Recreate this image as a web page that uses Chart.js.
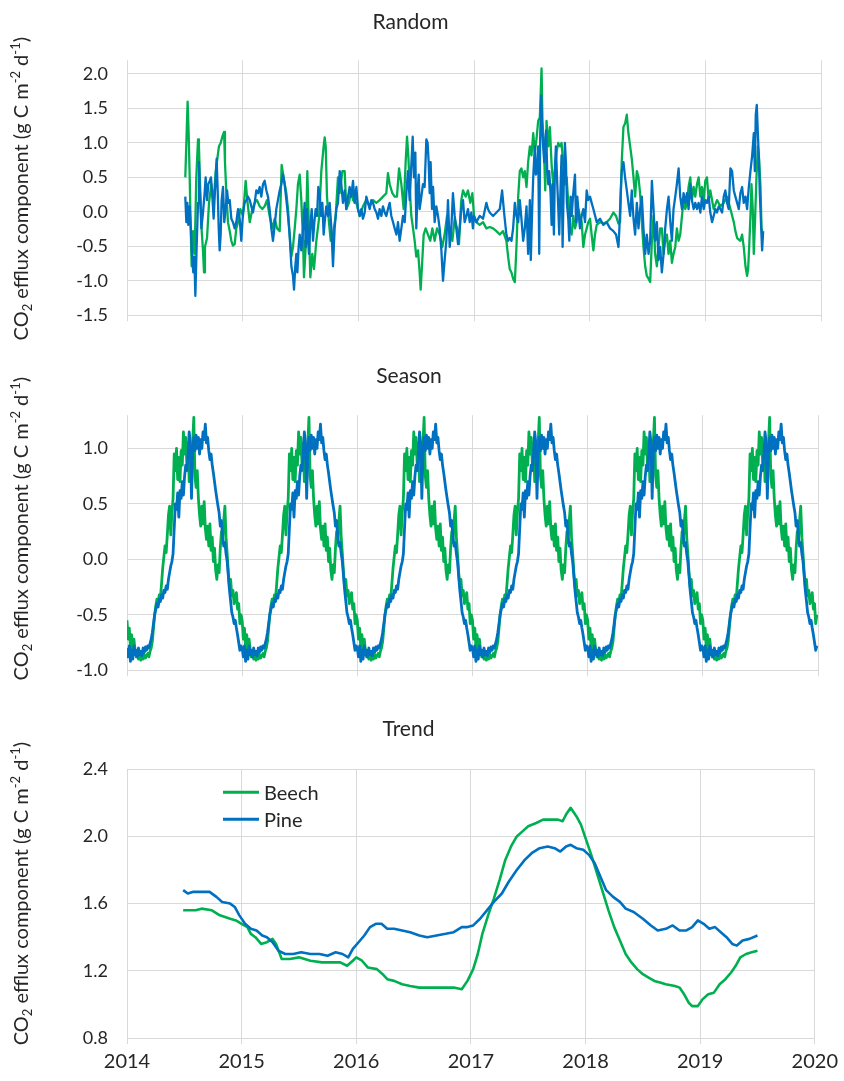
<!DOCTYPE html>
<html>
<head>
<meta charset="utf-8">
<script src="https://cdn.jsdelivr.net/npm/chart.js@4.4.1/dist/chart.umd.min.js"></script>
<style>
  html, body { margin: 0; padding: 0; background: #fff; }
  .panel { position: absolute; left: 0; width: 844px; }
</style>
</head>
<body>
<div class="panel" style="top:0;height:345px"><canvas id="randomChart"></canvas></div>
<div class="panel" style="top:345px;height:355px"><canvas id="seasonChart"></canvas></div>
<div class="panel" style="top:700px;height:381px"><canvas id="trendChart"></canvas></div>
<script>
const yearTicks = [2014, 2015, 2016, 2017, 2018, 2019, 2020];
const randomTicks = [-1.5, -1.0, -0.5, 0.0, 0.5, 1.0, 1.5, 2.0];
const seasonTicks = [-1.0, -0.5, 0.0, 0.5, 1.0];
const trendTicks = [0.8, 1.2, 1.6, 2.0, 2.4];
const seriesNames = ["Beech", "Pine"];

// random component, [year, value]
const beechRandom = [
  [2014.504,0.50],[2014.524,1.60],[2014.533,1.14],[2014.542,0.50],[2014.550,-0.19],[2014.559,-0.79],[2014.571,-0.28],[2014.585,-0.61],
  [2014.599,0.50],[2014.614,1.05],[2014.622,0.95],[2014.634,0.27],[2014.646,-0.28],[2014.657,-0.56],[2014.666,-0.88],[2014.674,-0.51],
  [2014.692,-0.38],[2014.709,0.13],[2014.729,0.40],[2014.749,0.13],[2014.767,0.59],[2014.781,0.77],[2014.795,0.95],[2014.810,1.00],
  [2014.824,1.09],[2014.839,1.16],[2014.847,0.72],[2014.859,0.27],[2014.873,-0.15],[2014.888,-0.28],[2014.902,-0.42],[2014.916,-0.49],
  [2014.931,-0.47],[2014.945,-0.24],[2014.960,-0.15],[2014.980,0.04],[2015.003,-0.06],[2015.026,0.45],[2015.040,0.17],[2015.061,-0.15],
  [2015.084,0.04],[2015.104,0.13],[2015.124,0.17],[2015.147,0.08],[2015.170,0.04],[2015.190,0.08],[2015.210,0.17],[2015.233,-0.06],
  [2015.256,-0.24],[2015.277,-0.10],[2015.297,-0.24],[2015.320,-0.28],[2015.337,0.68],[2015.354,0.50],[2015.378,0.27],[2015.392,0.04],
  [2015.406,-0.33],[2015.421,-0.65],[2015.435,-0.51],[2015.450,-0.24],[2015.464,0.04],[2015.478,0.40],[2015.493,0.54],[2015.507,0.17],
  [2015.522,-0.42],[2015.530,-0.95],[2015.545,-0.51],[2015.559,0.59],[2015.573,-0.24],[2015.585,-0.95],[2015.602,-0.61],[2015.617,-0.83],
  [2015.637,-0.42],[2015.660,-0.10],[2015.680,0.59],[2015.700,0.95],[2015.709,1.08],[2015.718,0.95],[2015.729,0.22],[2015.746,-0.15],
  [2015.761,-0.42],[2015.781,-0.33],[2015.804,-0.06],[2015.824,0.50],[2015.839,0.27],[2015.862,0.59],[2015.882,0.59],[2015.896,0.04],
  [2015.919,0.13],[2015.939,0.31],[2015.954,0.17],[2015.983,0.13],[2016.012,-0.06],[2016.040,0.08],[2016.069,0.17],[2016.098,0.08],
  [2016.127,0.17],[2016.156,0.13],[2016.184,0.17],[2016.213,0.22],[2016.242,0.27],[2016.256,0.56],[2016.271,0.40],[2016.294,0.27],
  [2016.314,0.22],[2016.334,0.22],[2016.352,0.63],[2016.372,0.40],[2016.392,0.04],[2016.409,0.72],[2016.421,1.09],[2016.432,0.82],
  [2016.444,0.36],[2016.458,-0.06],[2016.473,-0.24],[2016.487,-0.42],[2016.501,-0.65],[2016.516,-0.56],[2016.530,-0.88],[2016.539,-1.13],
  [2016.550,-0.79],[2016.565,-0.33],[2016.582,-0.24],[2016.602,-0.33],[2016.622,-0.42],[2016.640,-0.24],[2016.660,-0.42],[2016.680,-0.24],
  [2016.703,-0.33],[2016.726,-0.51],[2016.746,-0.33],[2016.767,-0.06],[2016.790,-0.24],[2016.813,-0.42],[2016.833,-0.10],[2016.853,-0.24],
  [2016.870,-0.47],[2016.890,0.17],[2016.905,0.31],[2016.928,0.22],[2016.948,0.31],[2016.968,0.13],[2016.986,0.27],
  [2017.000,-0.06],[2017.020,-0.15],[2017.049,-0.19],[2017.078,-0.15],[2017.107,-0.24],[2017.136,-0.22],[2017.165,-0.24],[2017.194,-0.28],
  [2017.223,-0.33],[2017.251,-0.28],[2017.280,-0.42],[2017.295,-0.65],[2017.309,-0.83],[2017.324,-0.88],[2017.338,-0.97],[2017.353,-1.02],
  [2017.367,-0.51],[2017.382,0.22],[2017.396,0.59],[2017.410,0.63],[2017.425,0.50],[2017.439,0.59],[2017.454,0.36],[2017.468,0.72],
  [2017.483,0.95],[2017.497,0.82],[2017.512,1.14],[2017.526,0.87],[2017.540,1.05],[2017.555,1.32],[2017.569,1.37],[2017.584,2.08],
  [2017.592,1.32],[2017.604,0.95],[2017.616,0.31],[2017.627,1.32],[2017.642,0.95],[2017.656,1.23],[2017.671,0.68],[2017.685,0.40],
  [2017.699,0.59],[2017.714,0.87],[2017.728,1.00],[2017.743,0.95],[2017.757,1.00],[2017.772,0.68],[2017.786,0.40],[2017.801,0.50],
  [2017.815,0.13],[2017.829,-0.24],[2017.844,-0.33],[2017.858,-0.06],[2017.873,-0.24],[2017.887,-0.15],[2017.902,0.04],[2017.916,-0.06],
  [2017.931,-0.15],[2017.945,-0.51],[2017.960,-0.33],[2017.974,-0.24],[2017.988,-0.15],[2018.003,-0.10],[2018.017,-0.33],[2018.032,-0.56],
  [2018.046,-0.33],[2018.061,-0.19],[2018.090,-0.15],[2018.118,-0.17],[2018.147,-0.15],[2018.176,-0.10],[2018.205,-0.01],[2018.228,-0.06],
  [2018.249,-0.17],[2018.263,-0.15],[2018.277,0.72],[2018.292,1.23],[2018.306,1.28],[2018.321,1.41],[2018.335,1.14],[2018.350,0.95],
  [2018.364,0.77],[2018.379,0.50],[2018.393,0.22],[2018.408,0.59],[2018.422,0.50],[2018.436,0.27],[2018.451,-0.15],[2018.465,-0.51],
  [2018.480,-0.79],[2018.494,-0.93],[2018.509,-0.97],[2018.523,-1.02],[2018.538,-0.42],[2018.552,-0.06],[2018.566,-0.61],[2018.581,-0.79],
  [2018.595,-0.51],[2018.610,-0.24],[2018.624,-0.24],[2018.639,-0.61],[2018.653,-0.42],[2018.668,-0.33],[2018.682,-0.61],[2018.697,-0.42],
  [2018.711,-0.74],[2018.725,-0.61],[2018.740,-0.51],[2018.754,-0.24],[2018.769,-0.42],[2018.783,-0.33],[2018.798,-0.06],[2018.812,0.17],
  [2018.827,0.04],[2018.841,0.13],[2018.855,0.36],[2018.870,0.50],[2018.884,0.17],[2018.899,0.36],[2018.913,0.22],[2018.928,0.40],
  [2018.942,0.50],[2018.957,0.22],[2018.971,0.36],[2018.986,0.17],[2019.000,0.45],[2019.014,0.50],[2019.029,0.17],[2019.043,0.31],
  [2019.072,0.04],[2019.101,0.17],[2019.130,0.08],[2019.159,0.13],[2019.188,0.22],[2019.217,0.04],[2019.246,-0.15],[2019.260,-0.28],
  [2019.275,-0.38],[2019.303,-0.42],[2019.318,-0.33],[2019.332,-0.51],[2019.347,-0.79],[2019.361,-0.93],[2019.370,-0.83],[2019.379,-0.51],
  [2019.390,-0.06],[2019.399,0.40],[2019.410,0.04],[2019.419,-0.61],[2019.431,-0.06],[2019.442,0.50],[2019.454,0.95],[2019.465,0.77],
  [2019.477,0.36],[2019.486,-0.24],[2019.494,-0.30]
];

const pineRandom = [
  [2014.504,0.22],[2014.513,-0.15],[2014.522,0.13],[2014.530,-0.19],[2014.542,0.08],[2014.553,-0.28],[2014.562,-0.61],[2014.573,-0.88],
  [2014.582,-0.65],[2014.591,-1.22],[2014.602,-0.51],[2014.614,0.13],[2014.622,0.72],[2014.631,0.27],[2014.643,-0.24],[2014.657,-0.01],
  [2014.671,0.27],[2014.680,0.50],[2014.692,0.17],[2014.703,0.40],[2014.715,0.45],[2014.726,0.50],[2014.738,0.22],[2014.749,-0.10],
  [2014.758,0.22],[2014.767,0.50],[2014.775,0.77],[2014.784,0.31],[2014.793,-0.24],[2014.801,-0.56],[2014.810,-0.33],[2014.818,0.17],
  [2014.830,0.36],[2014.841,-0.15],[2014.853,0.04],[2014.865,0.31],[2014.876,0.13],[2014.888,0.17],[2014.902,-0.10],[2014.916,-0.15],
  [2014.931,-0.24],[2014.945,-0.15],[2014.960,0.04],[2014.974,-0.10],[2014.988,-0.42],[2015.003,-0.01],[2015.017,0.13],[2015.032,0.17],
  [2015.046,0.22],[2015.061,0.17],[2015.075,0.08],[2015.089,-0.01],[2015.104,0.13],[2015.118,0.31],[2015.133,0.27],[2015.147,0.36],
  [2015.161,0.22],[2015.176,0.40],[2015.190,0.45],[2015.205,0.31],[2015.219,0.22],[2015.233,0.04],[2015.248,-0.24],[2015.262,-0.42],
  [2015.277,-0.19],[2015.291,0.04],[2015.305,0.17],[2015.320,0.31],[2015.334,0.40],[2015.349,0.54],[2015.363,0.40],[2015.378,0.17],
  [2015.392,-0.06],[2015.406,-0.33],[2015.421,-0.79],[2015.435,-0.93],[2015.444,-1.13],[2015.455,-0.79],[2015.464,-0.61],[2015.473,-0.88],
  [2015.484,-0.51],[2015.493,-0.33],[2015.507,-0.56],[2015.522,-0.24],[2015.536,0.13],[2015.545,-0.51],[2015.556,0.04],[2015.565,-0.42],
  [2015.573,-0.61],[2015.585,-0.19],[2015.597,0.04],[2015.608,-0.42],[2015.620,-0.15],[2015.631,0.04],[2015.643,-0.06],[2015.654,0.36],
  [2015.666,0.27],[2015.677,-0.06],[2015.689,0.13],[2015.700,-0.33],[2015.712,-0.10],[2015.723,0.08],[2015.738,-0.06],[2015.752,0.13],
  [2015.767,-0.24],[2015.781,-0.79],[2015.795,-0.24],[2015.810,0.04],[2015.824,0.13],[2015.839,0.59],[2015.853,0.40],[2015.867,0.13],
  [2015.882,0.31],[2015.896,0.04],[2015.911,0.22],[2015.925,0.36],[2015.939,0.22],[2015.954,0.45],[2015.968,0.13],[2015.983,0.36],
  [2015.997,0.04],[2016.012,-0.06],[2016.026,0.04],[2016.040,-0.10],[2016.055,-0.01],[2016.069,0.22],[2016.084,0.13],[2016.098,0.04],
  [2016.112,0.17],[2016.127,0.13],[2016.141,0.04],[2016.156,-0.01],[2016.170,-0.10],[2016.184,0.04],[2016.199,-0.06],[2016.213,0.08],
  [2016.228,-0.01],[2016.242,-0.06],[2016.256,0.04],[2016.271,0.13],[2016.285,-0.06],[2016.300,-0.15],[2016.314,-0.24],[2016.329,-0.33],
  [2016.343,-0.15],[2016.357,-0.42],[2016.372,-0.24],[2016.386,-0.06],[2016.401,-0.15],[2016.415,0.27],[2016.429,0.59],[2016.444,0.17],
  [2016.458,0.68],[2016.470,1.09],[2016.481,0.50],[2016.493,0.86],[2016.501,-0.24],[2016.513,0.31],[2016.522,0.54],[2016.530,0.04],
  [2016.545,0.22],[2016.559,0.40],[2016.573,0.36],[2016.588,1.05],[2016.599,1.00],[2016.608,0.72],[2016.617,0.27],[2016.625,0.72],
  [2016.637,0.04],[2016.646,0.36],[2016.660,-0.15],[2016.674,0.08],[2016.689,-0.06],[2016.703,-0.24],[2016.718,-0.56],[2016.732,-1.00],
  [2016.746,-0.70],[2016.761,-0.42],[2016.775,0.17],[2016.790,-0.51],[2016.804,-0.24],[2016.818,0.27],[2016.833,-0.06],[2016.847,-0.24],
  [2016.862,-0.47],[2016.876,-0.24],[2016.890,0.04],[2016.905,0.17],[2016.919,-0.15],[2016.934,-0.06],[2016.948,0.04],[2016.963,-0.15],
  [2016.977,-0.01],[2016.991,-0.24],
  [2017.000,-0.06],[2017.020,-0.15],[2017.049,-0.06],[2017.078,-0.10],[2017.107,0.13],[2017.121,0.04],[2017.136,-0.01],[2017.165,-0.06],
  [2017.194,-0.01],[2017.223,0.04],[2017.243,0.31],[2017.260,-0.01],[2017.280,-0.33],[2017.295,-0.42],[2017.309,-0.38],[2017.324,-0.42],
  [2017.338,-0.24],[2017.353,0.13],[2017.367,-0.06],[2017.382,-0.15],[2017.396,0.17],[2017.410,-0.10],[2017.425,-0.42],[2017.439,-0.24],
  [2017.454,0.08],[2017.468,-0.61],[2017.483,0.17],[2017.491,-0.70],[2017.503,0.04],[2017.512,0.50],[2017.526,0.95],[2017.535,0.54],
  [2017.546,0.59],[2017.555,0.95],[2017.564,-0.61],[2017.572,1.05],[2017.581,1.69],[2017.590,1.18],[2017.598,0.95],[2017.607,0.72],
  [2017.616,1.05],[2017.624,1.18],[2017.633,0.59],[2017.642,0.40],[2017.650,0.59],[2017.662,0.27],[2017.671,-0.19],[2017.679,0.40],
  [2017.691,-0.33],[2017.699,0.59],[2017.708,0.95],[2017.720,0.40],[2017.728,0.08],[2017.737,-0.33],[2017.749,0.40],[2017.757,0.82],
  [2017.766,-0.51],[2017.777,0.50],[2017.786,1.00],[2017.795,0.72],[2017.803,0.13],[2017.815,-0.10],[2017.824,-0.42],[2017.835,0.22],
  [2017.844,-0.06],[2017.858,0.27],[2017.873,0.54],[2017.882,-0.15],[2017.893,0.22],[2017.902,0.04],[2017.916,-0.24],[2017.931,-0.06],
  [2017.945,0.04],[2017.960,-0.15],[2017.974,0.31],[2017.988,0.17],[2018.003,0.22],[2018.017,0.13],[2018.032,0.04],[2018.061,-0.15],
  [2018.090,-0.10],[2018.118,-0.19],[2018.147,-0.15],[2018.176,-0.24],[2018.205,-0.28],[2018.228,-0.33],[2018.249,-0.51],[2018.257,-0.24],
  [2018.269,0.31],[2018.277,0.59],[2018.292,0.72],[2018.306,0.50],[2018.321,0.31],[2018.335,0.13],[2018.350,-0.06],[2018.364,0.31],
  [2018.379,-0.10],[2018.393,-0.33],[2018.408,0.13],[2018.422,-0.24],[2018.436,0.04],[2018.451,0.22],[2018.465,-0.24],[2018.480,-0.61],
  [2018.494,-0.33],[2018.509,-0.61],[2018.523,-0.42],[2018.538,0.45],[2018.552,0.04],[2018.566,-0.42],[2018.581,-0.15],[2018.595,-0.70],
  [2018.610,-0.51],[2018.624,-0.88],[2018.639,-0.61],[2018.653,-0.24],[2018.668,0.04],[2018.682,0.22],[2018.697,-0.15],[2018.711,-0.42],
  [2018.725,0.04],[2018.740,0.22],[2018.754,0.40],[2018.769,0.63],[2018.783,0.22],[2018.798,0.04],[2018.812,0.27],[2018.827,0.13],
  [2018.841,0.27],[2018.855,0.04],[2018.870,0.40],[2018.884,0.17],[2018.899,0.04],[2018.913,0.13],[2018.928,0.04],[2018.942,0.13],
  [2018.957,-0.01],[2018.971,0.22],[2018.986,0.04],[2019.000,0.17],[2019.014,0.13],[2019.029,0.22],[2019.043,-0.01],[2019.058,-0.15],
  [2019.072,-0.06],[2019.087,0.04],[2019.101,-0.01],[2019.116,0.08],[2019.130,0.04],[2019.145,-0.01],[2019.159,0.22],[2019.173,0.31],
  [2019.188,0.13],[2019.202,0.04],[2019.217,0.63],[2019.231,0.59],[2019.246,0.31],[2019.260,0.22],[2019.275,0.13],[2019.289,0.04],
  [2019.303,0.27],[2019.318,0.36],[2019.332,0.13],[2019.347,0.22],[2019.361,0.04],[2019.376,0.36],[2019.390,0.59],[2019.405,0.82],
  [2019.419,1.14],[2019.428,0.59],[2019.436,1.41],[2019.445,1.55],[2019.454,1.14],[2019.462,0.82],[2019.471,0.27],[2019.483,-0.24],
  [2019.491,-0.56],[2019.500,-0.28]
];

// seasonal component: one yearly profile, read at 1/100-year steps, repeated each year
const seasonYears = [2014, 2015, 2016, 2017, 2018, 2019];
const beechSeason = [
  -0.55,-0.72,-0.62,-0.80,-0.68,-0.85,-0.72,-0.82,-0.88,-0.84,
  -0.90,-0.87,-0.91,-0.88,-0.90,-0.86,-0.89,-0.87,-0.85,-0.88,
  -0.83,-0.80,-0.74,-0.62,-0.50,-0.42,-0.36,-0.40,-0.32,-0.35,
  -0.22,-0.08,0.02,0.12,0.06,0.22,0.40,0.48,0.22,0.42,
  0.55,0.95,0.80,1.00,0.72,0.92,0.70,0.98,0.85,1.15,
  0.95,1.10,0.85,1.05,0.70,0.90,0.72,1.05,1.28,0.75,
  0.65,0.80,0.55,0.40,0.30,0.48,0.32,0.52,0.28,0.18,
  0.30,0.12,0.32,0.08,0.20,-0.02,0.10,-0.10,-0.18,-0.05,
  -0.12,0.10,0.25,0.15,0.35,0.48,0.20,0.05,-0.12,-0.25,
  -0.18,-0.33,-0.28,-0.40,-0.35,-0.30,-0.45,-0.40,-0.58,-0.50
];
const pineSeason = [
  -0.80,-0.88,-0.78,-0.92,-0.82,-0.90,-0.78,-0.86,-0.82,-0.88,
  -0.80,-0.86,-0.83,-0.87,-0.80,-0.84,-0.79,-0.82,-0.78,-0.80,
  -0.76,-0.72,-0.66,-0.58,-0.50,-0.45,-0.40,-0.43,-0.36,-0.38,
  -0.32,-0.35,-0.28,-0.30,-0.24,-0.27,-0.18,-0.12,-0.06,-0.02,
  0.05,0.28,0.50,0.45,0.60,0.38,0.62,0.55,0.70,0.58,
  0.75,0.85,0.80,0.95,1.15,1.05,0.55,0.95,1.10,0.98,
  1.12,1.00,1.10,0.95,1.08,1.00,1.15,1.08,1.22,1.05,
  1.10,0.98,0.90,0.95,0.85,0.78,0.70,0.62,0.55,0.48,
  0.42,0.30,0.35,0.20,0.12,0.15,0.05,-0.02,-0.15,-0.28,
  -0.38,-0.48,-0.52,-0.58,-0.55,-0.62,-0.68,-0.75,-0.82,-0.78
];

// trend component, [year, value]
const beechTrend = [
  [2014.49,1.56],[2014.55,1.56],[2014.60,1.56],[2014.65,1.57],[2014.74,1.56],[2014.81,1.53],[2014.90,1.51],[2014.95,1.50],
  [2015.00,1.48],[2015.05,1.46],[2015.08,1.42],[2015.12,1.40],[2015.17,1.36],[2015.22,1.37],[2015.27,1.39],[2015.30,1.36],
  [2015.35,1.27],[2015.42,1.27],[2015.50,1.28],[2015.60,1.26],[2015.70,1.25],[2015.80,1.25],[2015.86,1.25],[2015.92,1.23],
  [2015.97,1.26],[2016.00,1.28],[2016.05,1.26],[2016.10,1.22],[2016.18,1.21],[2016.23,1.18],[2016.27,1.15],[2016.33,1.14],
  [2016.40,1.12],[2016.47,1.11],[2016.55,1.10],[2016.65,1.10],[2016.75,1.10],[2016.85,1.10],[2016.92,1.09],[2016.97,1.14],
  [2017.02,1.21],[2017.06,1.30],[2017.10,1.42],[2017.15,1.53],[2017.20,1.63],[2017.25,1.74],[2017.30,1.86],[2017.35,1.94],
  [2017.40,2.00],[2017.45,2.03],[2017.50,2.06],[2017.57,2.08],[2017.63,2.10],[2017.70,2.10],[2017.76,2.10],[2017.80,2.09],
  [2017.83,2.13],[2017.87,2.17],[2017.92,2.12],[2017.96,2.07],[2018.00,1.99],[2018.05,1.89],[2018.10,1.78],[2018.15,1.67],
  [2018.20,1.56],[2018.25,1.46],[2018.30,1.38],[2018.35,1.30],[2018.40,1.25],[2018.45,1.21],[2018.50,1.18],[2018.55,1.16],
  [2018.60,1.14],[2018.65,1.13],[2018.70,1.12],[2018.78,1.11],[2018.82,1.10],[2018.86,1.06],[2018.90,1.01],[2018.93,0.99],
  [2018.98,0.99],[2019.02,1.03],[2019.07,1.06],[2019.12,1.07],[2019.17,1.12],[2019.22,1.15],[2019.27,1.19],[2019.31,1.23],
  [2019.35,1.28],[2019.40,1.30],[2019.45,1.31],[2019.50,1.32]
];
const pineTrend = [
  [2014.49,1.68],[2014.53,1.66],[2014.58,1.67],[2014.65,1.67],[2014.72,1.67],[2014.78,1.64],[2014.83,1.61],[2014.90,1.60],
  [2014.94,1.58],[2014.98,1.53],[2015.03,1.48],[2015.08,1.45],[2015.13,1.44],[2015.18,1.41],[2015.22,1.40],[2015.27,1.37],
  [2015.32,1.32],[2015.38,1.30],[2015.45,1.30],[2015.52,1.31],[2015.60,1.30],[2015.68,1.30],[2015.75,1.29],[2015.82,1.31],
  [2015.88,1.30],[2015.93,1.28],[2015.97,1.33],[2016.02,1.37],[2016.07,1.41],[2016.12,1.46],[2016.17,1.48],[2016.22,1.48],
  [2016.27,1.45],[2016.33,1.45],[2016.40,1.44],[2016.47,1.43],[2016.55,1.41],[2016.62,1.40],[2016.70,1.41],[2016.78,1.42],
  [2016.85,1.43],[2016.92,1.46],[2016.97,1.46],[2017.02,1.47],[2017.08,1.51],[2017.14,1.56],[2017.20,1.61],[2017.27,1.66],
  [2017.33,1.73],[2017.40,1.80],[2017.47,1.86],[2017.53,1.90],[2017.60,1.93],[2017.67,1.94],[2017.73,1.93],[2017.78,1.91],
  [2017.83,1.94],[2017.87,1.95],[2017.92,1.93],[2017.98,1.92],[2018.03,1.89],[2018.08,1.84],[2018.13,1.76],[2018.18,1.68],
  [2018.24,1.64],[2018.30,1.61],[2018.35,1.57],[2018.42,1.55],[2018.50,1.51],[2018.57,1.47],[2018.63,1.44],[2018.70,1.45],
  [2018.76,1.47],[2018.82,1.44],[2018.88,1.44],[2018.93,1.46],[2018.98,1.50],[2019.03,1.48],[2019.08,1.45],[2019.13,1.46],
  [2019.18,1.43],[2019.23,1.40],[2019.28,1.36],[2019.32,1.35],[2019.37,1.38],[2019.43,1.39],[2019.50,1.41]
];

const green = "#00b050";
const blue = "#0070c0";
const gridColor = "#d9d9d9";
const textColor = "#262626";
const fontFamily = "Lato, 'Open Sans', sans-serif";

const toPoints = (pairs) => pairs.map((p) => ({ x: p[0], y: p[1] }));
const seasonPoints = (profile) => {
  const pts = [];
  seasonYears.forEach((yr) => {
    profile.forEach((v, i) => pts.push({ x: yr + i / profile.length, y: v }));
  });
  return pts;
};

// rotated y title with sub/superscripts
const yTitlePlugin = {
  id: "yTitle",
  afterDraw(chart, args, opts) {
    const ctx = chart.ctx;
    const size = opts.size;
    const parts = [
      ["CO", 0], ["2", -1], [" efflux component (g C m", 0], ["-2", 1], [" d", 0], ["-1", 1], [")", 0],
    ];
    const big = size + "px " + fontFamily;
    const small = Math.round(size * 0.65) + "px " + fontFamily;
    ctx.save();
    let total = 0;
    parts.forEach(([t, k]) => {
      ctx.font = k ? small : big;
      total += ctx.measureText(t).width;
    });
    const area = chart.chartArea;
    ctx.translate(opts.x, (area.top + area.bottom) / 2 + opts.offset);
    ctx.rotate(-Math.PI / 2);
    ctx.fillStyle = textColor;
    ctx.textBaseline = "middle";
    let x = -total / 2;
    parts.forEach(([t, k]) => {
      ctx.font = k ? small : big;
      const dy = k === 1 ? -size * 0.32 : k === -1 ? size * 0.28 : 0;
      ctx.fillText(t, x, dy);
      x += ctx.measureText(t).width;
    });
    ctx.restore();
  },
};

// legend drawn inside the trend plot area
const insideLegend = {
  id: "insideLegend",
  afterDraw(chart, args, opts) {
    if (!opts.show) return;
    const { ctx, chartArea } = chart;
    ctx.save();
    chart.data.datasets.forEach((ds, i) => {
      const y = chartArea.top + 23 + i * 27;
      const x0 = chartArea.left + 96;
      ctx.strokeStyle = ds.borderColor;
      ctx.lineWidth = 3;
      ctx.beginPath();
      ctx.moveTo(x0, y);
      ctx.lineTo(x0 + 36, y);
      ctx.stroke();
      ctx.fillStyle = textColor;
      ctx.font = "20px " + fontFamily;
      ctx.textBaseline = "middle";
      ctx.fillText(ds.label, x0 + 41, y + 1);
    });
    ctx.restore();
  },
};

function xScale(showLabels, height) {
  return {
    type: "linear",
    min: 2014,
    max: 2020,
    bounds: "data",
    afterBuildTicks: (s) => { s.ticks = yearTicks.map((v) => ({ value: v })); },
    ticks: {
      display: showLabels,
      padding: 6,
      color: textColor,
      font: { family: fontFamily, size: 20 },
      maxRotation: 0,
      callback: (v) => String(v),
    },
    grid: { color: gridColor, lineWidth: 1, drawTicks: true, tickLength: 6 },
    border: { display: false },
    afterFit: (s) => { s.height = height; },
  };
}

function yScale(min, max, ticks) {
  return {
    min: min,
    max: max,
    bounds: "data",
    afterBuildTicks: (s) => { s.ticks = ticks.map((v) => ({ value: v })); },
    ticks: {
      padding: 19,
      color: textColor,
      font: { family: fontFamily, size: 18 },
      callback: (v) => Number(v).toFixed(1),
    },
    grid: { color: gridColor, lineWidth: 1, drawTicks: false },
    border: { display: false },
    afterFit: (s) => { s.width = 127; },
  };
}

function makeChart(id, cfg) {
  return new Chart(document.getElementById(id), {
    type: "line",
    data: {
      datasets: [
        {
          label: seriesNames[0],
          data: cfg.beech,
          borderColor: green,
          borderWidth: cfg.lineWidth,
          order: 1,
        },
        {
          label: seriesNames[1],
          data: cfg.pine,
          borderColor: blue,
          borderWidth: cfg.lineWidth,
          order: 0,
        },
      ],
    },
    options: {
      responsive: true,
      maintainAspectRatio: false,
      animation: false,
      elements: {
        point: { radius: 0 },
        line: { tension: 0, borderJoinStyle: "round", fill: false },
      },
      layout: { padding: { left: 0, right: cfg.padRight, top: 0, bottom: 0 } },
      scales: {
        x: xScale(cfg.xLabels, cfg.xHeight),
        y: yScale(cfg.min, cfg.max, cfg.ticks),
      },
      plugins: {
        legend: { display: false },
        tooltip: { enabled: false },
        title: {
          display: true,
          text: cfg.title,
          color: textColor,
          font: { family: fontFamily, size: 21, weight: "normal" },
          padding: { top: cfg.titleTop, bottom: cfg.titleBottom },
        },
        yTitle: { x: 22, size: 20, offset: cfg.labelOffset },
        insideLegend: { show: cfg.legend },
      },
    },
    plugins: [yTitlePlugin, insideLegend],
  });
}

makeChart("randomChart", {
  title: "Random",
  beech: toPoints(beechRandom),
  pine: toPoints(pineRandom),
  lineWidth: 2.3,
  min: -1.5, max: 2.2, ticks: randomTicks,
  xLabels: false, xHeight: 17, padRight: 23,
  titleTop: 10, titleBottom: 25, labelOffset: 1, legend: false,
});

makeChart("seasonChart", {
  title: "Season",
  beech: seasonPoints(beechSeason),
  pine: seasonPoints(pineSeason),
  lineWidth: 2.8,
  min: -1.0, max: 1.3, ticks: seasonTicks,
  xLabels: false, xHeight: 16, padRight: 26,
  titleTop: 19, titleBottom: 26, labelOffset: -14, legend: false,
});

makeChart("trendChart", {
  title: "Trend",
  beech: toPoints(beechTrend),
  pine: toPoints(pineTrend),
  lineWidth: 2.6,
  min: 0.8, max: 2.4, ticks: trendTicks,
  xLabels: true, xHeight: 43, padRight: 27,
  titleTop: 17, titleBottom: 27, labelOffset: -10, legend: true,
});
</script>
</body>
</html>
